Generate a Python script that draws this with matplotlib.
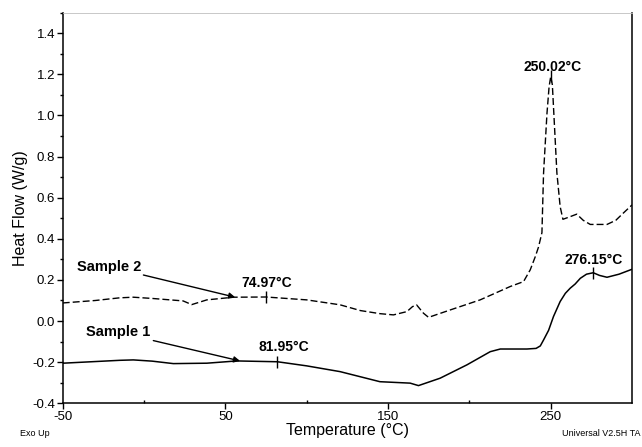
import numpy as np
import matplotlib
matplotlib.use("Agg")
import matplotlib.pyplot as plt

plt.rcParams['font.family'] = ['Liberation Sans', 'DejaVu Sans']
plt.rcParams['axes.unicode_minus'] = False

# Sample 1 (solid)
temp1 = [-50, -30, -15, -6.6, 5, 18, 38.6, 57, 82, 100, 120.5, 145, 163.6, 168.7,
         182, 198.5, 212.8, 219, 235.4, 241, 243.6, 245.6, 248.7, 251.7, 255.8,
         259, 262, 265, 268.2, 272, 276.15, 280, 284.6, 292, 300]
flow1 = [-0.205, -0.197, -0.191, -0.189, -0.195, -0.207, -0.205, -0.194, -0.198,
         -0.218, -0.246, -0.295, -0.302, -0.314, -0.278, -0.213, -0.149, -0.136,
         -0.136, -0.133, -0.121, -0.092, -0.045, 0.022, 0.095, 0.135, 0.16, 0.18,
         0.208, 0.228, 0.235, 0.222, 0.213, 0.228, 0.252]

# Sample 2 (dashed)
temp2 = [-50, -30, -15, -6.6, 5, 24, 29.3, 38.6, 55, 75, 100, 120.5, 133, 145,
         153.3, 161.6, 165, 167.5, 171.8, 174.9, 188.2, 206.6, 225.1, 233.3, 237.4,
         240.5, 242.5, 244.6, 245.6, 247.7, 249, 250.02, 251, 251.7, 253.8, 255.8,
         257.5, 261, 266, 270, 274.3, 284.6, 290, 294.6, 300]
flow2 = [0.088, 0.1, 0.113, 0.116, 0.11, 0.098, 0.08, 0.103, 0.116, 0.117, 0.103,
         0.079, 0.051, 0.036, 0.03, 0.046, 0.07, 0.079, 0.038, 0.018, 0.054, 0.103,
         0.168, 0.192, 0.249, 0.313, 0.36, 0.43, 0.72, 1.01, 1.14, 1.19, 1.15,
         1.043, 0.72, 0.557, 0.495, 0.505, 0.52, 0.49, 0.47, 0.47, 0.49, 0.525, 0.565]

# marked points: (temperature, heat flow, label)
marks = [(74.97, 0.116, "74.97°C"), (81.95, -0.198, "81.95°C"),
         (250.02, 1.19, "250.02°C"), (276.15, 0.235, "276.15°C")]
label_pos = [(75.6, 0.184), (86, -0.124), (251, 1.235), (276.6, 0.297)]

x_major = [-50, 50, 150, 250]
x_minor = [0, 100, 200]

fig = plt.figure(figsize=(6.42, 4.47), dpi=100)
ax = fig.add_axes([0.0977, 0.0978, 0.8868, 0.8738])

ax.plot(temp1, flow1, color='k', lw=1.1)
ax.plot(temp2, flow2, color='k', lw=1.0, dashes=(5, 2.2))

for (t, h, s), (lx, ly) in zip(marks, label_pos):
    ax.plot([t], [h], marker='|', ms=9, mew=1.0, color='k')
    ax.text(lx, ly, s, ha='center', va='center', fontsize=10, fontweight='bold')

# sample labels with arrows
ax.text(-21.5, 0.265, "Sample 2", ha='center', va='center', fontsize=10.5, fontweight='bold')
ax.annotate('', xy=(56, 0.116), xytext=(-0.4, 0.224),
            arrowprops=dict(arrowstyle='-|>', color='k', lw=1.0, mutation_scale=9,
                            shrinkA=0, shrinkB=0))
ax.text(-15.8, -0.054, "Sample 1", ha='center', va='center', fontsize=10.5, fontweight='bold')
ax.annotate('', xy=(59, -0.194), xytext=(5.7, -0.095),
            arrowprops=dict(arrowstyle='-|>', color='k', lw=1.0, mutation_scale=9,
                            shrinkA=0, shrinkB=0))

ax.set_xlim(-50, 300)
ax.set_ylim(-0.4, 1.5)
ax.set_xticks(x_major)
ax.set_xticks(x_minor, minor=True)
ax.set_yticks(np.arange(-0.4, 1.41, 0.2))
ax.set_yticks(np.arange(-0.3, 1.51, 0.2), minor=True)
ax.yaxis.set_major_formatter(matplotlib.ticker.FormatStrFormatter('%.1f'))

ax.tick_params(axis='both', which='major', direction='out', length=4, width=1,
               labelsize=9.5, pad=1.5)
ax.tick_params(axis='x', which='minor', direction='in', length=2.5, width=1)
ax.tick_params(axis='y', which='minor', direction='out', length=2.5, width=1)

for side in ['left', 'bottom', 'right']:
    ax.spines[side].set_linewidth(1.1)
ax.spines['top'].set_color('0.75')
ax.spines['top'].set_linewidth(0.6)

ax.set_xlabel("Temperature (°C)", fontsize=11.5, labelpad=0)
ax.set_ylabel("Heat Flow (W/g)", fontsize=11.5, labelpad=3)

fig.text(20 / 642, 1 - 434 / 447, "Exo Up", fontsize=6.5, ha='left', va='center')
fig.text(641 / 642, 1 - 434 / 447, "Universal V2.5H TA", fontsize=6.5, ha='right', va='center')

fig.savefig("out.png", dpi=100)
